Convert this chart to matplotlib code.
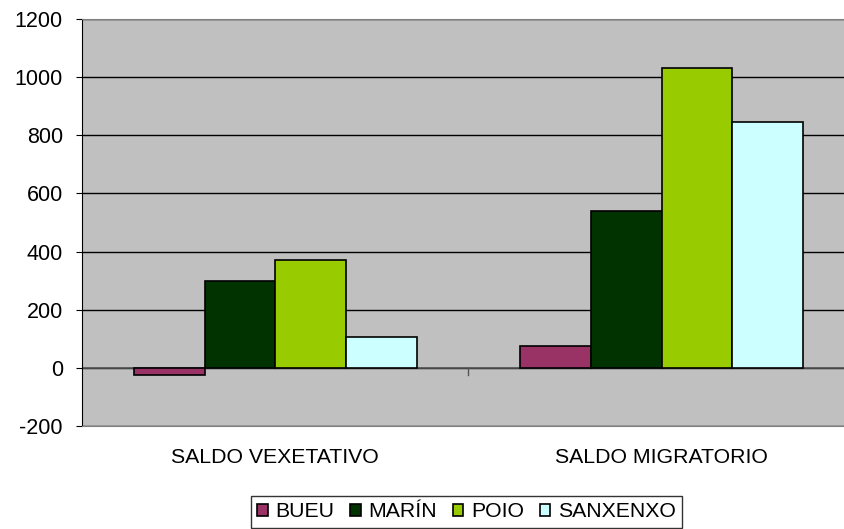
import matplotlib.pyplot as plt
import numpy as np

# -------------------------
# Data
# -------------------------
categories = ["SALDO VEXETATIVO", "SALDO MIGRATORIO"]
series_names = ["BUEU", "MARÍN", "POIO", "SANXENXO"]
bueu = [-25, 75]
marin = [300, 540]
poio = [370, 1030]
sanxenxo = [105, 845]
colors = ["#993366", "#003300", "#99CC00", "#CCFFFF"]

values = [bueu, marin, poio, sanxenxo]

plt.rcParams["font.family"] = ["Liberation Sans", "DejaVu Sans"]
plt.rcParams["axes.unicode_minus"] = False

W, H = 845, 529
fig = plt.figure(figsize=(W / 100, H / 100), dpi=100)
# plot area runs a little past the right edge of the image
ax = fig.add_axes([82 / W, (H - 426) / H, 773 / W, 407 / H])
ax.set_facecolor("#C0C0C0")

x = np.arange(len(categories))
bar_w = 0.183
for i, (name, vals) in enumerate(zip(series_names, values)):
    offset = (i - 1.5) * bar_w
    ax.bar(x + offset, vals, width=bar_w, color=colors[i],
           edgecolor="black", linewidth=1.2, label=name, zorder=3)

# Axis setup
ax.set_xlim(-0.5, 1.5)
ax.set_ylim(-200, 1200)
ax.set_yticks(range(-200, 1201, 200))
ax.grid(axis="y", color="black", linewidth=1, zorder=1)
ax.set_axisbelow(True)

# category axis sits at zero
ax.axhline(0, color="#555555", linewidth=1.2, zorder=2)
ax.plot([0.5, 0.5], [0, -25], color="#555555", linewidth=1, zorder=2)

ax.set_xticks(x)
ax.set_xticklabels(categories, fontsize=15.3)
ax.tick_params(axis="x", length=0, pad=16)
ax.tick_params(axis="y", labelsize=15.5, length=4.3, direction="out", pad=9.4)

for side in ["top", "right", "bottom"]:
    ax.spines[side].set_color("#808080")
ax.spines["left"].set_color("black")

handles, labels = ax.get_legend_handles_labels()
leg = fig.legend(handles, labels, loc="upper center",
                 bbox_to_anchor=(466.5 / W, 1 - 496 / H), ncol=4,
                 fontsize=15.3, frameon=True, fancybox=False, edgecolor="black",
                 handlelength=0.5, handleheight=0.5, handletextpad=0.35,
                 columnspacing=0.75, borderpad=0.3, borderaxespad=0)
leg.get_frame().set_linewidth(1)

fig.savefig("out.png", dpi=100)
